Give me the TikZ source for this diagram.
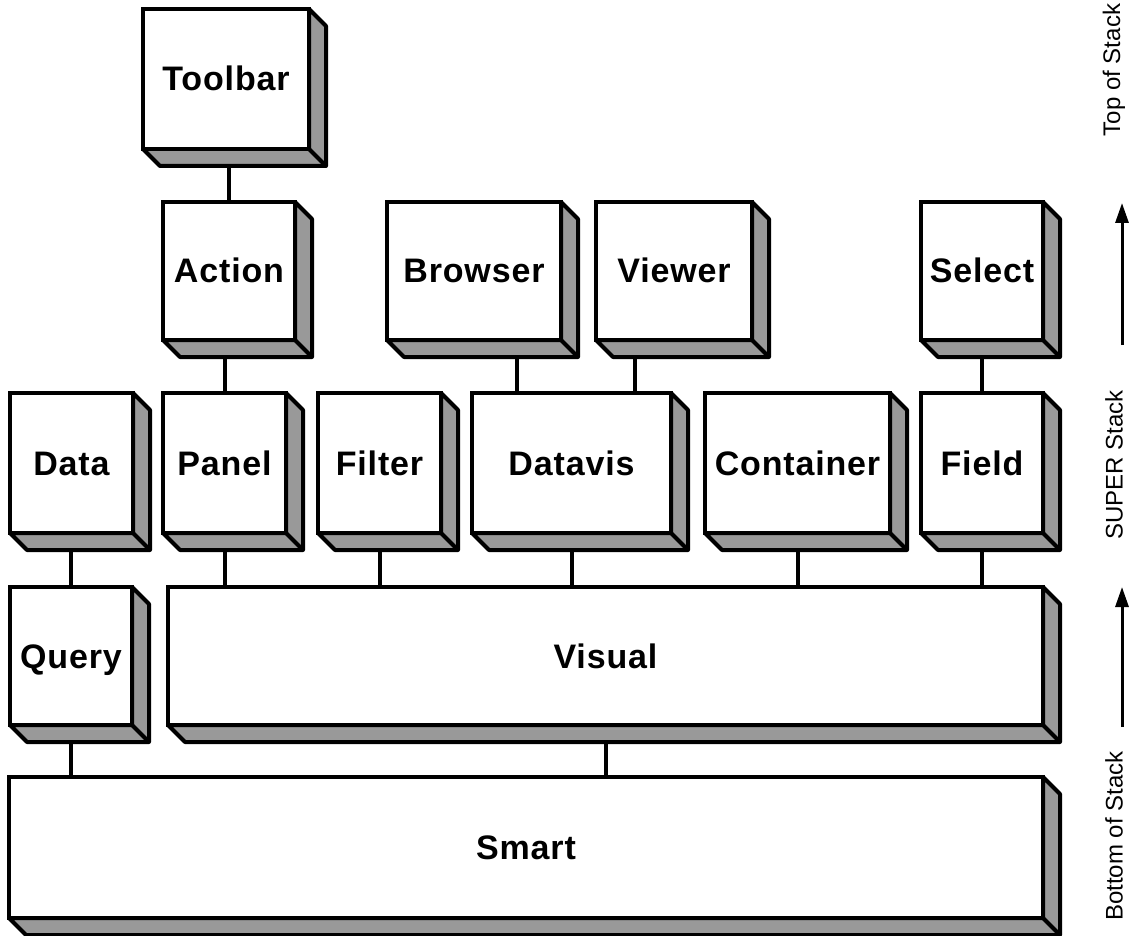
\documentclass[tikz,border=0pt]{standalone}
\usepackage{fontspec}
\setmainfont{Liberation Sans}
\newfontfamily\boxfont[LetterSpace=2.5]{Liberation Sans}
\usetikzlibrary{arrows.meta}
\pgfdeclarelayer{conn}
\pgfdeclarelayer{depth}
\pgfsetlayers{conn,depth,main}
\definecolor{shade}{RGB}{153,153,153}
\tikzset{
  front/.style={draw, line width=4pt, fill=white, outer sep=0pt, inner sep=0pt,
    font=\boxfont\bfseries\fontsize{34}{38}\selectfont, text height=24pt, text depth=0pt},
  sideface/.style={draw, line width=4pt, fill=shade, line join=round},
  link/.style={line width=4pt},
  sidelabel/.style={rotate=90, font=\fontsize{24}{30}\selectfont, inner sep=0pt},
  stackarrow/.style={line width=3pt, -{Triangle[length=20pt,width=13pt]}}
}
\newcommand\depthof[1]{%
  \begin{pgfonlayer}{depth}
    \draw[sideface] (#1.north east) -- ++(17,17) -- ([shift={(17,17)}]#1.south east)
      -- ([shift={(17,17)}]#1.south west) -- (#1.south west) -- (#1.south east) -- cycle;
    \draw[sideface] (#1.south east) -- ([shift={(17,17)}]#1.south east);
  \end{pgfonlayer}}
\begin{document}
\begin{tikzpicture}[x=1pt,y=-1pt]
\useasboundingbox (0,0) rectangle (1130,936);
% top row
\node[front, minimum width=166, minimum height=140] (toolbar) at (226,79) {Toolbar};
% second row
\node[front, minimum width=132, minimum height=138] (action) at (229,271) {Action};
\node[front, minimum width=174, minimum height=138] (browser) at (474,271) {Browser};
\node[front, minimum width=156, minimum height=138] (viewer) at (674,271) {Viewer};
\node[front, minimum width=122, minimum height=138] (select) at (982,271) {Select};
% third row
\node[front, minimum width=123, minimum height=140] (data) at (71.5,463) {Data};
\node[front, minimum width=123, minimum height=140] (panel) at (224.5,463) {Panel};
\node[front, minimum width=123, minimum height=140] (filter) at (379.5,463) {Filter};
\node[front, minimum width=199, minimum height=140] (datavis) at (571.5,463) {Datavis};
\node[front, minimum width=185, minimum height=140] (container) at (797.5,463) {Container};
\node[front, minimum width=122, minimum height=140] (field) at (982,463) {Field};
% fourth row
\node[front, minimum width=122, minimum height=138] (query) at (71,656) {Query};
\node[front, minimum width=875, minimum height=138] (visual) at (605.5,656) {Visual};
% base
\node[front, minimum width=1034, minimum height=141] (smart) at (526,847.5) {Smart};
% depth faces
\foreach \n in {toolbar,action,browser,viewer,select,data,panel,filter,datavis,container,field,query,visual,smart}{\depthof{\n}}
% connectors
\begin{pgfonlayer}{conn}
\draw[link] (action.north) -- (action.north |- toolbar.south);
\draw[link] (panel.north) -- (panel.north |- action.south);
\draw[link] ([xshift=-54.5pt]datavis.north) -- ([xshift=-54.5pt]datavis.north |- browser.south);
\draw[link] ([xshift=63.5pt]datavis.north) -- ([xshift=63.5pt]datavis.north |- viewer.south);
\draw[link] (field.north) -- (field.north |- select.south);
\draw[link] (query.north) -- (query.north |- data.south);
\draw[link] (panel.south) -- (panel.south |- visual.north);
\draw[link] (filter.south) -- (filter.south |- visual.north);
\draw[link] (datavis.south) -- (datavis.south |- visual.north);
\draw[link] (container.south) -- (container.south |- visual.north);
\draw[link] (field.south) -- (field.south |- visual.north);
\draw[link] (query.south) -- (query.south |- smart.north);
\draw[link] (visual.south) -- (visual.south |- smart.north);
\end{pgfonlayer}
% right-hand stack labels
\node[sidelabel] (topstack) at (1114,70) {Top of Stack};
\node[sidelabel] (superstack) at (1114,465) {SUPER Stack};
\node[sidelabel] (bottomstack) at (1114,836) {Bottom of Stack};
\coordinate (upA) at (1122,203);
\coordinate (lowA) at (1122,345);
\coordinate (upB) at (1122,587);
\coordinate (lowB) at (1122,727);
\draw[stackarrow] (lowA) -- (upA);
\draw[stackarrow] (lowB) -- (upB);
\end{tikzpicture}
\end{document}
